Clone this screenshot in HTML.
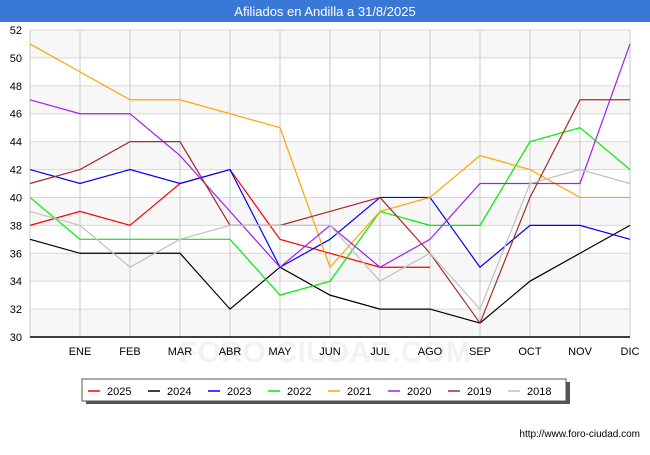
<!DOCTYPE html>
<html><head><meta charset="utf-8"><style>
body{margin:0;width:650px;height:450px;background:#fff;font-family:"Liberation Sans",sans-serif;overflow:hidden}
</style></head><body>
<svg width="650" height="450" id="svg" xmlns="http://www.w3.org/2000/svg">
<rect x="0" y="0" width="650" height="22" fill="#3a78d8"/>
<text x="325" y="16" text-anchor="middle" fill="#fff" font-size="13">Afiliados en Andilla a 31/8/2025</text>
<g id="grid"></g>
<text x="325" y="362" text-anchor="middle" font-size="30" fill="#f2f2f2" font-weight="bold">FORO-CIUDAD.COM</text>
<g id="series"></g><g id="axes"></g>
<rect x="86" y="382" width="484" height="22" fill="#555"/>
<rect x="82" y="379" width="484" height="22" fill="#fff" stroke="#555"/>
<g id="legend"></g>
<text x="640" y="437" text-anchor="end" font-size="10" fill="#000">http://www.foro-ciudad.com</text>
</svg>
<script>
const categories=["","ENE","FEB","MAR","ABR","MAY","JUN","JUL","AGO","SEP","OCT","NOV","DIC"];
const yTicks=[30,32,34,36,38,40,42,44,46,48,50,52];
const seriesNames=["2025","2024","2023","2022","2021","2020","2019","2018"];
const seriesColors=["#ff0000","#000000","#0000ff","#00ee00","#ffa500","#a020f0","#a52a2a","#c0c0c0"];
const s2025=[38,39,38,41,42,37,36,35,35];
const s2024=[37,36,36,36,32,35,33,32,32,31,34,36,38];
const s2023=[42,41,42,41,42,35,37,40,40,35,38,38,37];
const s2022=[40,37,37,37,37,33,34,39,38,38,44,45,42];
const s2021=[51,49,47,47,46,45,35,39,40,43,42,40,40];
const s2020=[47,46,46,43,39,35,38,35,37,41,41,41,51];
const s2019=[41,42,44,44,38,38,39,40,36,31,40,47,47];
const s2018=[39,38,35,37,38,38,38,34,36,32,41,42,41];
const allSeries=[s2025,s2024,s2023,s2022,s2021,s2020,s2019,s2018];
const X0=30,X1=630,Y0=337,Y1=30,ymin=30,ymax=52;
const xs=i=>X0+i*(X1-X0)/(categories.length-1);
const ys=v=>Y0-(v-ymin)*(Y0-Y1)/(ymax-ymin);
const NS="http://www.w3.org/2000/svg";
function mk(tag,attrs,parent){const e=document.createElementNS(NS,tag);for(const k in attrs)e.setAttribute(k,attrs[k]);parent.appendChild(e);return e;}
const grid=document.getElementById('grid'),axes=document.getElementById('axes'),ser=document.getElementById('series'),leg=document.getElementById('legend');
for(let i=0;i<yTicks.length-1;i++){if(i%2===0){const r=mk('rect',{x:X0,y:ys(yTicks[i+1]),width:X1-X0,height:ys(yTicks[i])-ys(yTicks[i+1]),fill:'#f7f7f7'},grid);

}}
yTicks.forEach(v=>{const l=mk('line',{x1:X0,x2:X1,y1:ys(v),y2:ys(v),stroke:'#d8d8d8'},grid);


const t=mk('text',{x:X0-8,y:ys(v)+4,'text-anchor':'end','font-size':'11'},axes);t.textContent=v;

});
categories.forEach((c,i)=>{const l=mk('line',{x1:xs(i),x2:xs(i),y1:Y1,y2:Y0,stroke:'#c8c8c8'},grid);


if(c){const t=mk('text',{x:xs(i),y:Y0+18,'text-anchor':'middle','font-size':'11'},axes);t.textContent=c;

}});
const ax=mk('line',{x1:X0,x2:X1,y1:Y0,y2:Y0,stroke:'#000','stroke-width':1.5},axes);


allSeries.forEach((d,k)=>{const p=mk('polyline',{points:d.map((v,i)=>xs(i)+','+ys(v)).join(' '),fill:'none',stroke:seriesColors[k],'stroke-width':1.2},ser);

});
seriesNames.forEach((n,k)=>{const x=88+k*60;const g=mk('g',{},leg);


mk('line',{x1:x,x2:x+12,y1:391,y2:391,stroke:seriesColors[k],'stroke-width':1.5},g);
const t=mk('text',{x:x+19,y:395,'font-size':'11'},g);t.textContent=n;});
</script>
</body></html>
